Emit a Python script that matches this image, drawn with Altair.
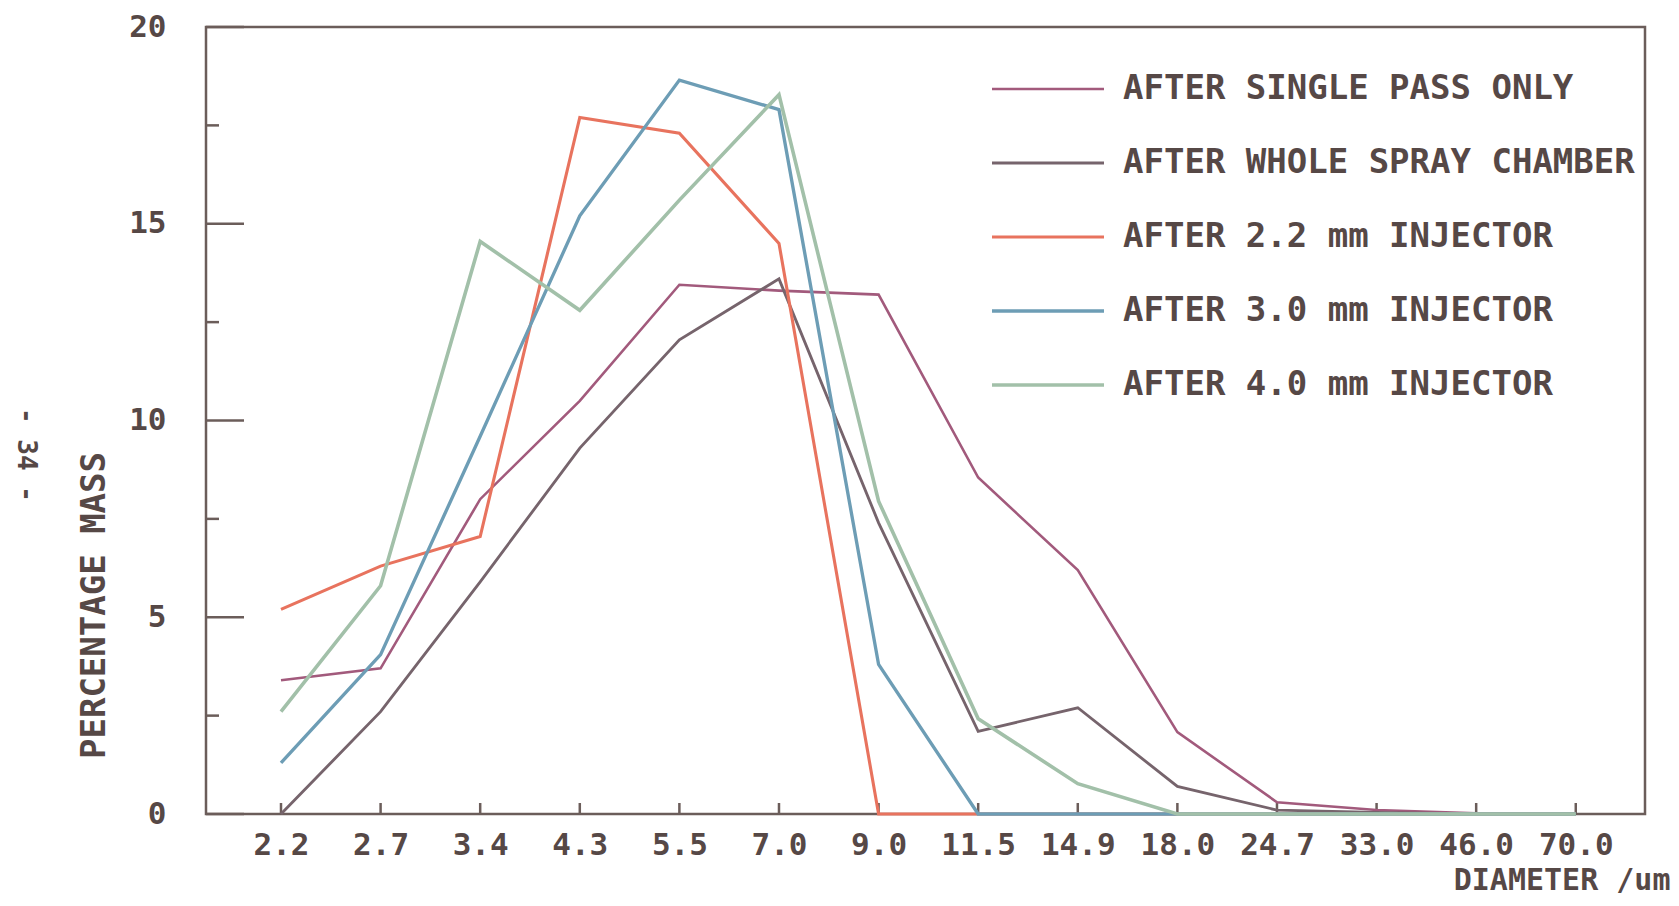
import altair as alt
import pandas as pd

# ---- data ----
diameters = ["2.2", "2.7", "3.4", "4.3", "5.5", "7.0", "9.0", "11.5", "14.9",
             "18.0", "24.7", "33.0", "46.0", "70.0"]
series_names = ["AFTER SINGLE PASS ONLY", "AFTER WHOLE SPRAY CHAMBER",
                "AFTER 2.2 mm INJECTOR", "AFTER 3.0 mm INJECTOR",
                "AFTER 4.0 mm INJECTOR"]
single_pass = [3.4, 3.7, 8.0, 10.5, 13.45, 13.3, 13.2, 8.55, 6.2, 2.08, 0.3, 0.1, 0.02, 0.0]
whole_chamber = [0.0, 2.6, 5.9, 9.3, 12.05, 13.6, 7.4, 2.1, 2.7, 0.7, 0.1, 0.04, 0.0, 0.0]
inj_22 = [5.2, 6.3, 7.05, 17.7, 17.3, 14.5, 0.0, 0.0, 0.0, 0.0, 0.0, 0.0, 0.0, 0.0]
inj_30 = [1.3, 4.05, 9.6, 15.2, 18.65, 17.9, 3.8, 0.0, 0.0, 0.0, 0.0, 0.0, 0.0, 0.0]
inj_40 = [2.6, 5.8, 14.55, 12.8, 15.6, 18.28, 7.95, 2.42, 0.77, 0.0, 0.0, 0.0, 0.0, 0.0]
y_major = [0, 5, 10, 15, 20]
y_minor = [2.5, 7.5, 12.5, 17.5]

colors = ["#a25a7c", "#76646c", "#e8735e", "#6d9db5", "#a2c0a9"]
widths = [2.6, 3.6, 2.6, 2.6, 2.6]

FONT = "DejaVu Sans Mono"
TXT = "#564846"
FRAME = "#6b5d5a"

rows = []
for name, vals in zip(series_names, [single_pass, whole_chamber, inj_22, inj_30, inj_40]):
    for d, v in zip(diameters, vals):
        rows.append({"series": name, "diameter": d, "mass": v})
df = pd.DataFrame(rows)

W, H = 1439, 787

xscale = alt.Scale(domain=diameters, type="point", padding=0.724, align=0.52)
yscale = alt.Scale(domain=[0, 20], nice=False)

lines = alt.Chart(df).mark_line().encode(
    x=alt.X("diameter:N", scale=xscale, sort=diameters,
            axis=alt.Axis(title="DIAMETER /um", labelAngle=0, labelAlign="center",
                          ticks=False, domain=False,
                          grid=False, labelFont=FONT, labelFontWeight="bold",
                          labelFontSize=31, labelColor=TXT, labelPadding=31,
                          titleFont=FONT, titleFontWeight="bold", titleFontSize=30,
                          titleColor=TXT, titleX=1464, titleY=66, titleAlign="right",
                          titleBaseline="middle")),
    y=alt.Y("mass:Q", scale=yscale,
            axis=alt.Axis(title="PERCENTAGE MASS", values=y_major, ticks=False, domain=False,
                          grid=False, labelFont=FONT, labelFontWeight="bold",
                          labelFontSize=31, labelColor=TXT, labelPadding=40,
                          titleFont=FONT, titleFontWeight="bold", titleFontSize=34,
                          titleColor=TXT, titleAngle=270, titleX=-112, titleY=578,
                          titleAlign="center", titleBaseline="middle")),
    color=alt.Color("series:N", scale=alt.Scale(domain=series_names, range=colors),
                    sort=series_names,
                    legend=alt.Legend(title=None, orient="none", legendX=784, legendY=45,
                                      symbolType="stroke", symbolSize=12544,
                                      symbolStrokeWidth=2.6, clipHeight=34,
                                      rowPadding=40, labelOffset=17, labelLimit=0,
                                      labelFont=FONT, labelFontWeight="bold",
                                      labelFontSize=34, labelColor=TXT, padding=0)),
    strokeWidth=alt.StrokeWidth("series:N", scale=alt.Scale(domain=series_names, range=widths),
                                legend=None),
    detail="series:N",
)

ymaj_df = pd.DataFrame({"v": y_major})
ymin_df = pd.DataFrame({"v": y_minor})
xt_df = pd.DataFrame({"d": diameters})

ymaj_ticks = alt.Chart(ymaj_df).mark_rule(color=FRAME, strokeWidth=2.5).encode(
    y=alt.Y("v:Q", scale=yscale), x=alt.value(0), x2=alt.value(38))
ymin_ticks = alt.Chart(ymin_df).mark_rule(color=FRAME, strokeWidth=2.5).encode(
    y=alt.Y("v:Q", scale=yscale), x=alt.value(0), x2=alt.value(13))
x_ticks = alt.Chart(xt_df).mark_rule(color=FRAME, strokeWidth=2.5).encode(
    x=alt.X("d:N", scale=xscale, sort=diameters), y=alt.value(H), y2=alt.value(H - 11))

page_no = alt.Chart(pd.DataFrame({"t": ["- 34 -"]})).mark_text(
    font=FONT, fontWeight="bold", fontSize=26, color=TXT, angle=90,
    align="center", baseline="middle").encode(
    text="t:N", x=alt.value(-180), y=alt.value(428))

chart = alt.layer(ymaj_ticks, ymin_ticks, x_ticks, lines, page_no).properties(
    width=W, height=H,
    background="white",
    autosize=alt.AutoSizeParams(type="none"),
    padding={"left": 198, "top": 19, "right": 26, "bottom": 84},
).configure_view(stroke=FRAME, strokeWidth=2.5)

chart.save("out.html", embed_options={"renderer": "svg", "actions": False})
